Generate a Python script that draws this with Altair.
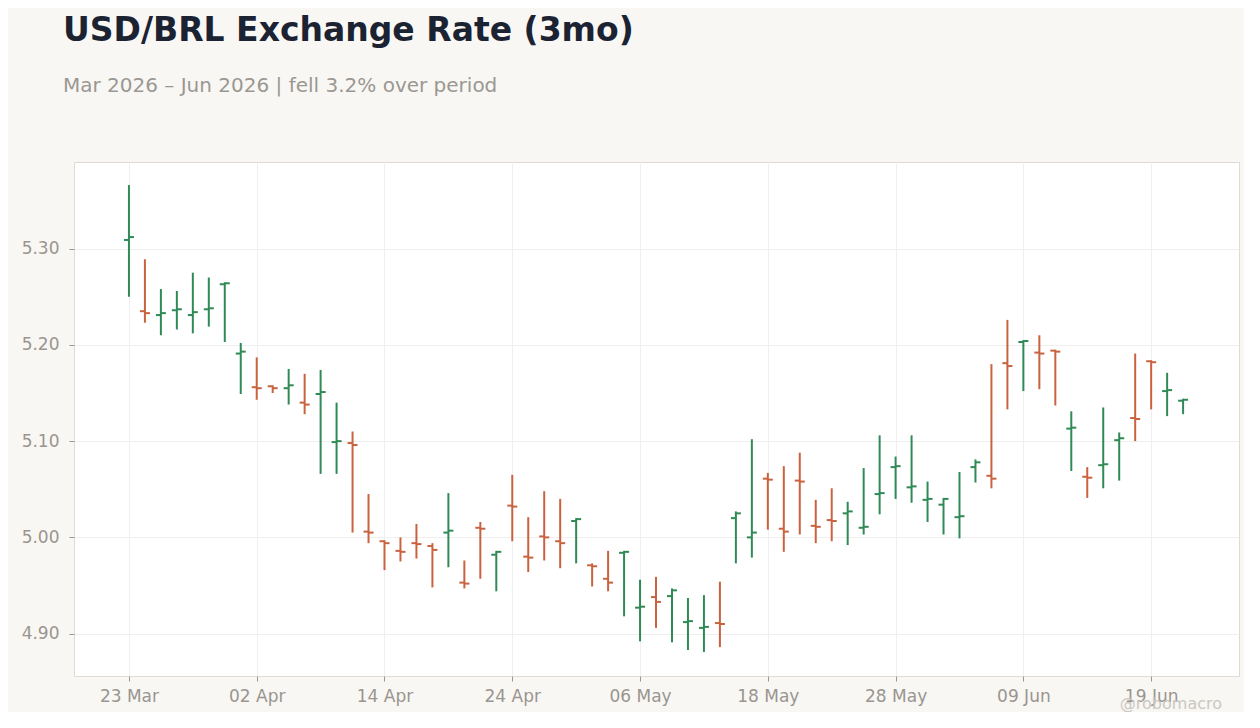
import json
import altair as alt
import pandas as pd

# business days shown on the x axis (23 Mar .. 23 Jun 2026)
days = pd.bdate_range("2026-03-23", periods=67).strftime("%d %b").tolist()
tick_labels = ["23 Mar", "02 Apr", "14 Apr", "24 Apr", "06 May",
               "18 May", "28 May", "09 Jun", "19 Jun"]
y_ticks = [4.90, 5.00, 5.10, 5.20, 5.30]

opens = [5.309, 5.235, 5.231, 5.236, 5.231, 5.237, 5.263, 5.191, 5.156, 5.157,
         5.155, 5.140, 5.149, 5.099, 5.098, 5.006, 4.996, 4.986, 4.994, 4.991,
         5.005, 4.953, 5.010, 4.982, 5.033, 4.980, 5.001, 4.996, 5.017, 4.971,
         4.957, 4.984, 4.927, 4.938, 4.939, 4.912, 4.906, 4.911, 5.020, 5.000,
         5.061, 5.009, 5.059, 5.012, 5.018, 5.025, 5.010, 5.045, 5.073, 5.052,
         5.039, 5.034, 5.021, 5.073, 5.064, 5.181, 5.203, 5.192, 5.194, 5.113,
         5.063, 5.075, 5.101, 5.124, 5.183, 5.152, 5.142]
highs = [5.366, 5.289, 5.258, 5.256, 5.275, 5.270, 5.265, 5.202, 5.187, 5.158,
         5.175, 5.170, 5.174, 5.140, 5.110, 5.045, 4.997, 5.000, 5.014, 4.994,
         5.046, 4.976, 5.016, 4.986, 5.065, 5.021, 5.048, 5.040, 5.020, 4.973,
         4.986, 4.986, 4.956, 4.959, 4.947, 4.937, 4.940, 4.954, 5.027, 5.102,
         5.067, 5.074, 5.088, 5.039, 5.051, 5.037, 5.072, 5.106, 5.084, 5.106,
         5.058, 5.041, 5.068, 5.081, 5.180, 5.226, 5.205, 5.210, 5.195, 5.131,
         5.073, 5.135, 5.109, 5.191, 5.184, 5.171, 5.144]
lows = [5.250, 5.223, 5.210, 5.216, 5.212, 5.219, 5.203, 5.149, 5.143, 5.150,
        5.138, 5.128, 5.066, 5.066, 5.005, 4.994, 4.966, 4.975, 4.978, 4.948,
        4.969, 4.947, 4.957, 4.944, 4.996, 4.964, 4.976, 4.968, 4.973, 4.949,
        4.944, 4.918, 4.892, 4.906, 4.891, 4.883, 4.881, 4.886, 4.973, 4.979,
        5.008, 4.985, 5.003, 4.994, 4.996, 4.992, 5.003, 5.024, 5.040, 5.036,
        5.016, 5.003, 4.999, 5.057, 5.051, 5.133, 5.152, 5.154, 5.137, 5.069,
        5.041, 5.051, 5.059, 5.100, 5.133, 5.126, 5.128]
closes = [5.312, 5.233, 5.233, 5.237, 5.234, 5.238, 5.264, 5.193, 5.155, 5.155,
          5.158, 5.138, 5.151, 5.100, 5.096, 5.005, 4.994, 4.985, 4.993, 4.987,
          5.007, 4.952, 5.009, 4.985, 5.032, 4.979, 5.000, 4.994, 5.019, 4.970,
          4.953, 4.985, 4.928, 4.933, 4.945, 4.913, 4.907, 4.910, 5.025, 5.005,
          5.060, 5.006, 5.058, 5.011, 5.017, 5.027, 5.011, 5.046, 5.074, 5.053,
          5.040, 5.040, 5.022, 5.078, 5.061, 5.178, 5.204, 5.191, 5.193, 5.114,
          5.062, 5.076, 5.103, 5.123, 5.182, 5.153, 5.143]

credit = "@robomacro"
UP = "#2f8a55"
DOWN = "#c9623f"
GREY = "#9a958f"

df = pd.DataFrame({"i": range(len(days)), "day": days, "open": opens,
                   "high": highs, "low": lows, "close": closes})

tick_pos = [days.index(t) for t in tick_labels]

base = alt.Chart(df).transform_calculate(
    dir="datum.close >= datum.open ? 'up' : 'down'"
).encode(
    x=alt.X("i:Q",
            scale=alt.Scale(domain=[-3.44, 69.5], nice=False, zero=False),
            axis=alt.Axis(values=tick_pos, title=None, labelPadding=7,
                          labelExpr=json.dumps(days).replace('"', "'")
                          + "[datum.value]")),
    color=alt.Color("dir:N", legend=None,
                    scale=alt.Scale(domain=["up", "down"], range=[UP, DOWN])),
)

yscale = alt.Scale(domain=[4.856, 5.390], nice=False, zero=False)

rules = base.mark_rule(strokeWidth=2).encode(
    y=alt.Y("low:Q", scale=yscale, title=None,
            axis=alt.Axis(values=y_ticks, format=".2f", labelPadding=10)),
    y2="high:Q",
)
open_ticks = base.mark_tick(orient="horizontal", size=5, thickness=2,
                            xOffset=-2.5, opacity=1).encode(y="open:Q")
close_ticks = base.mark_tick(orient="horizontal", size=5, thickness=2,
                             xOffset=2.5, opacity=1).encode(y="close:Q")

credit_text = alt.Chart(pd.DataFrame({"t": [credit]})).mark_text(
    align="right", baseline="alphabetic", font="DejaVu Sans",
    fontSize=16, color="#cbc7c1"
).encode(text="t:N", x=alt.value(1148), y=alt.value(547))

chart = alt.layer(rules, open_ticks, close_ticks, credit_text).properties(
    width=1165,
    height=514,
    padding={"left": 13, "top": 7, "right": 5, "bottom": 0},
    title=alt.Title(
        text="USD/BRL Exchange Rate (3mo)",
        subtitle="Mar 2026 – Jun 2026 | fell 3.2% over period",
        anchor="start", frame="group", dx=-11,
        font="DejaVu Sans", fontSize=33, fontWeight="bold", color="#1b2333",
        subtitleFont="DejaVu Sans", subtitleFontSize=20,
        subtitleColor="#9b9792", subtitlePadding=28, offset=66,
    ),
).configure(
    background="#f8f7f4"
).configure_view(
    fill="white", stroke="#e0dbd2", strokeWidth=1
).configure_axis(
    labelFont="DejaVu Sans", labelFontSize=17, labelColor=GREY,
    tickColor=GREY, tickSize=5, domain=False,
    gridColor="#efefef", gridWidth=1,
)

chart.save("out.html", embed_options={"renderer": "svg", "actions": False})
